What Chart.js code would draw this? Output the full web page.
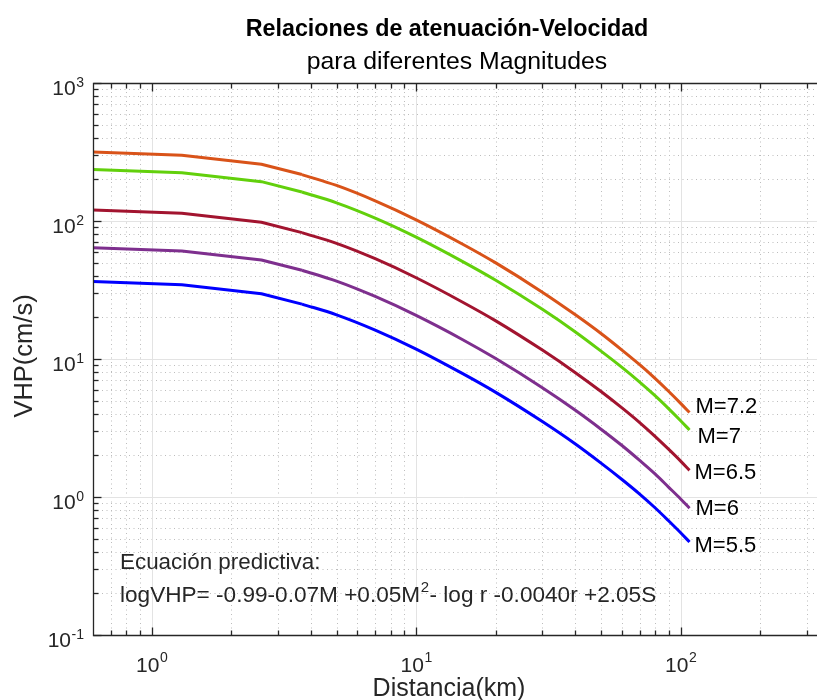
<!DOCTYPE html>
<html>
<head>
<meta charset="utf-8">
<script src="https://cdn.jsdelivr.net/npm/chart.js@4.4.1/dist/chart.umd.min.js"></script>
<style>
html,body{margin:0;padding:0;overflow:hidden;background:#fff;}
#c{display:block;}
</style>
</head>
<body>
<canvas id="c" width="840" height="700"></canvas>
<script>
// ---------- data ----------
const distances = [0.6, 1.3, 2.6, 3.7, 5, 7, 10, 15, 20, 30, 40, 50, 60, 70, 80, 90, 100, 108];
const vhpM72 = [316, 299, 258, 217, 181, 140, 102, 67.9, 49.7, 30.5, 20.9, 15.3, 11.6, 9.09, 7.24, 5.84, 4.77, 4.09];
const vhpM7  = [236.6, 223.9, 192.8, 162.2, 135.5, 105, 76.4, 50.8, 37.2, 22.9, 15.7, 11.4, 8.69, 6.8, 5.42, 4.37, 3.57, 3.06];
const vhpM65 = [120.2, 113.8, 97.9, 82.4, 68.9, 53.3, 38.8, 25.8, 18.9, 11.6, 7.96, 5.81, 4.42, 3.46, 2.75, 2.22, 1.82, 1.56];
const vhpM6  = [64.1, 60.7, 52.2, 44.0, 36.7, 28.4, 20.7, 13.8, 10.07, 6.19, 4.25, 3.10, 2.36, 1.84, 1.47, 1.18, 0.968, 0.83];
const vhpM55 = [36.5, 34.5, 29.7, 25.0, 20.9, 16.2, 11.8, 7.83, 5.73, 3.52, 2.42, 1.76, 1.34, 1.05, 0.836, 0.673, 0.551, 0.472];
const seriesLabels = ['M=7.2', 'M=7', 'M=6.5', 'M=6', 'M=5.5'];
const xTickValues = [1, 10, 100];
const xTickExponents = ['0', '1', '2'];
const yTickValues = [0.1, 1, 10, 100, 1000];
const yTickExponents = ['-1', '0', '1', '2', '3'];
const titleText = 'Relaciones de atenuación-Velocidad';
const subtitleText = 'para diferentes Magnitudes';
const xLabelText = 'Distancia(km)';
const yLabelText = 'VHP(cm/s)';
const noteLine1 = 'Ecuación predictiva:';
const noteLine2a = 'logVHP= -0.99-0.07M +0.05M';
const noteLine2sup = '2';
const noteLine2b = '- log r -0.0040r +2.05S';

// ---------- styles ----------
const seriesValues = [vhpM72, vhpM7, vhpM65, vhpM6, vhpM55];
const seriesColors = ['#D95319', '#62D00C', '#A2142F', '#7E2F8E', '#0000FF'];
const labelDx = [6, 8, 5, 6, 5];
const labelDy = [0, 13, 9, 7, 10];
const nearFieldCount = 4; // straight segments up to the 4th distance, smooth after
const FONT = '"Liberation Sans", Arial, Helvetica, sans-serif';
const AXIS_COLOR = '#262626';

function txt(ctx, s, x, y, size, opts) {
  opts = opts || {};
  ctx.save();
  ctx.font = (opts.bold ? 'bold ' : '') + size + 'px ' + FONT;
  ctx.fillStyle = opts.color || AXIS_COLOR;
  ctx.textBaseline = 'alphabetic';
  ctx.textAlign = opts.align || 'left';
  ctx.translate(x, y);
  if (opts.rotate) ctx.rotate(opts.rotate);
  ctx.fillText(s, 0, 0);
  ctx.restore();
}
function measure(ctx, s, size, bold) {
  ctx.save();
  ctx.font = (bold ? 'bold ' : '') + size + 'px ' + FONT;
  const w = ctx.measureText(s).width;
  ctx.restore();
  return w;
}
function minorValues(min, max) {
  const out = [];
  for (let k = -3; k <= 4; k++) {
    for (let m = 2; m <= 9; m++) {
      const v = m * Math.pow(10, k);
      if (v > min * 1.0001 && v < max * 0.9999) out.push(v);
    }
  }
  return out;
}

const matlabAxes = {
  id: 'matlabAxes',
  beforeDatasetsDraw(chart) {
    const ctx = chart.ctx, a = chart.chartArea;
    const xs = chart.scales.x, ys = chart.scales.y;
    ctx.save();
    ctx.strokeStyle = '#bdbdbd';
    ctx.lineWidth = 1;
    ctx.setLineDash([1, 3.5]);
    minorValues(xs.min, xs.max).forEach(v => {
      const px = Math.round(xs.getPixelForValue(v)) + 0.5;
      ctx.beginPath(); ctx.moveTo(px, a.top); ctx.lineTo(px, a.bottom); ctx.stroke();
    });
    minorValues(ys.min, ys.max).forEach(v => {
      const py = Math.round(ys.getPixelForValue(v)) + 0.5;
      ctx.beginPath(); ctx.moveTo(a.left, py); ctx.lineTo(a.right, py); ctx.stroke();
    });
    ctx.setLineDash([]);
    ctx.strokeStyle = '#e3e3e3';
    xTickValues.forEach(v => {
      const px = Math.round(xs.getPixelForValue(v)) + 0.5;
      ctx.beginPath(); ctx.moveTo(px, a.top); ctx.lineTo(px, a.bottom); ctx.stroke();
    });
    yTickValues.forEach(v => {
      const py = Math.round(ys.getPixelForValue(v)) + 0.5;
      ctx.beginPath(); ctx.moveTo(a.left, py); ctx.lineTo(a.right, py); ctx.stroke();
    });
    ctx.restore();
  },
  afterDraw(chart) {
    const ctx = chart.ctx, a = chart.chartArea;
    const xs = chart.scales.x, ys = chart.scales.y;
    ctx.save();
    ctx.strokeStyle = AXIS_COLOR;
    ctx.lineWidth = 1.3;
    const L = Math.round(a.left) + 0.5, T = Math.round(a.top) + 0.5, B = Math.round(a.bottom) + 0.5, R = a.right;
    ctx.beginPath();
    ctx.moveTo(R, T); ctx.lineTo(L, T); ctx.lineTo(L, B); ctx.lineTo(R, B);
    ctx.stroke();
    const tick = (v, len, isX) => {
      if (isX) {
        const px = Math.round(xs.getPixelForValue(v)) + 0.5;
        ctx.beginPath(); ctx.moveTo(px, B); ctx.lineTo(px, B - len); ctx.stroke();
        ctx.beginPath(); ctx.moveTo(px, T); ctx.lineTo(px, T + len); ctx.stroke();
      } else {
        const py = Math.round(ys.getPixelForValue(v)) + 0.5;
        ctx.beginPath(); ctx.moveTo(L, py); ctx.lineTo(L + len, py); ctx.stroke();
      }
    };
    minorValues(xs.min, xs.max).forEach(v => tick(v, 5, true));
    xTickValues.forEach(v => tick(v, 8, true));
    minorValues(ys.min, ys.max).forEach(v => tick(v, 5, false));
    yTickValues.forEach(v => tick(v, 8, false));
    ctx.restore();

    const baseSize = 21, expSize = 14;
    xTickValues.forEach((v, i) => {
      const px = xs.getPixelForValue(v);
      const wb = measure(ctx, '10', baseSize), we = measure(ctx, xTickExponents[i], expSize);
      const x0 = px - (wb + we) / 2;
      txt(ctx, '10', x0, a.bottom + 37, baseSize);
      txt(ctx, xTickExponents[i], x0 + wb + 0.5, a.bottom + 27, expSize);
    });
    yTickValues.forEach((v, i) => {
      const py = ys.getPixelForValue(v);
      const wb = measure(ctx, '10', baseSize), we = measure(ctx, yTickExponents[i], expSize);
      const xr = a.left - 9;
      txt(ctx, yTickExponents[i], xr - we, py + 4, expSize);
      txt(ctx, '10', xr - we - wb - 0.5, py + 12, baseSize);
    });

    txt(ctx, titleText, 447, 36, 23.3, { bold: true, align: 'center', color: '#000' });
    txt(ctx, subtitleText, 457, 69, 24.8, { align: 'center', color: '#000' });
    txt(ctx, xLabelText, 449, 696, 25, { align: 'center' });
    txt(ctx, yLabelText, 32, 356, 25.5, { align: 'center', rotate: -Math.PI / 2 });

    seriesLabels.forEach((lab, i) => {
      const meta = chart.getDatasetMeta(i * 2 + 1);
      const last = meta.data[meta.data.length - 1];
      txt(ctx, lab, last.x + labelDx[i], last.y + labelDy[i], 22, { color: '#000' });
    });

    txt(ctx, noteLine1, 120, 569, 22.4);
    const ns = 22.6;
    const w2a = measure(ctx, noteLine2a, ns);
    txt(ctx, noteLine2a, 120, 602, ns);
    txt(ctx, noteLine2sup, 120 + w2a + 0.5, 592, 15);
    const wsup = measure(ctx, noteLine2sup, 15);
    txt(ctx, noteLine2b, 120 + w2a + wsup + 1, 602, ns);
  }
};

const datasets = [];
seriesValues.forEach((vals, i) => {
  const pts = distances.map((d, j) => ({ x: d, y: vals[j] }));
  const common = {
    borderColor: seriesColors[i],
    backgroundColor: seriesColors[i],
    borderWidth: 3,
    pointRadius: 0,
    fill: false,
    borderJoinStyle: 'round',
    borderCapStyle: 'butt'
  };
  datasets.push(Object.assign({ label: seriesLabels[i] + ' (near)', data: pts.slice(0, nearFieldCount), tension: 0 }, common));
  datasets.push(Object.assign({ label: seriesLabels[i], data: pts.slice(nearFieldCount - 1), cubicInterpolationMode: 'monotone' }, common));
});

new Chart(document.getElementById('c'), {
  type: 'line',
  data: { datasets },
  options: {
    responsive: false,
    animation: false,
    devicePixelRatio: 1,
    layout: { padding: { left: 93, top: 83, right: 6, bottom: 65 } },
    plugins: { legend: { display: false }, tooltip: { enabled: false }, title: { display: false } },
    scales: {
      x: { type: 'logarithmic', min: 0.6, max: 380, display: false },
      y: { type: 'logarithmic', min: 0.1, max: 1000, display: false }
    }
  },
  plugins: [matlabAxes]
});
</script>
</body>
</html>
